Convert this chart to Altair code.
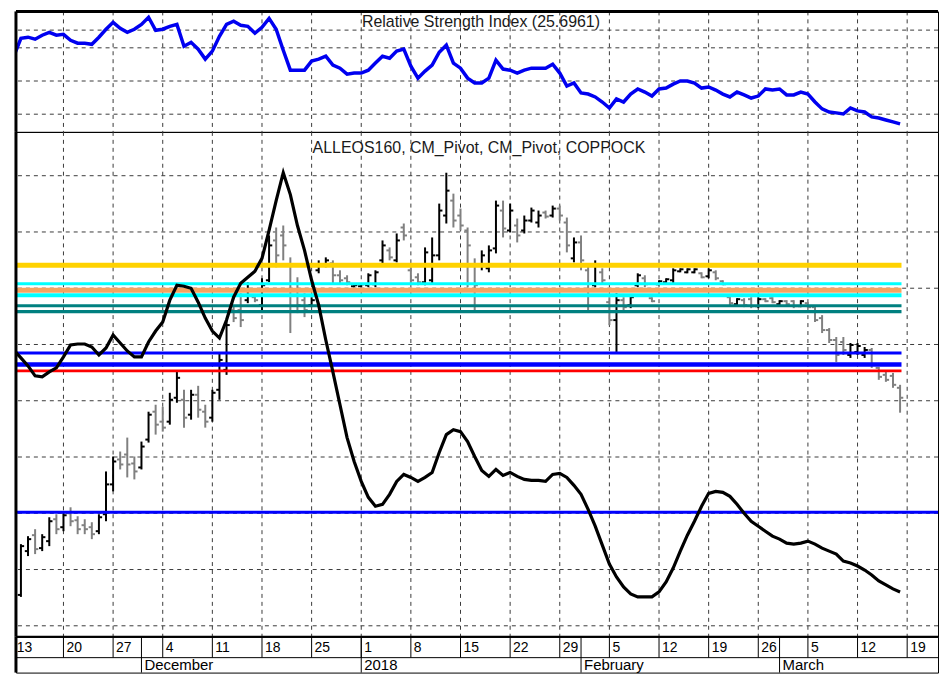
import altair as alt
import pandas as pd

# ---------------- data (day index: 0 = Monday 13 Nov 2017, one step per calendar day) ----------------
bar_day = list(range(1, 126))
bar_high = [95, 103, 110, 105, 122, 125, 127, 132, 123, 120,
            117, 125, 168, 183, 188, 202, 183, 198, 228, 235,
            233, 247, 268, 250, 250, 254, 235, 250, 287, 320,
            335, 347, 358, 345, 362, 405, 413, 415, 383, 363,
            347, 343, 380, 383, 380, 370, 365, 356, 356, 367,
            370, 400, 393, 407, 417, 373, 367, 393, 403, 437,
            468, 447, 432, 413, 382, 390, 395, 440, 440, 437,
            422, 425, 433, 430, 430, 435, 435, 423, 403, 405,
            377, 380, 372, 343, 347, 343, 345, 367, 365, 343,
            360, 362, 372, 372, 372, 372, 368, 372, 370, 360,
            345, 342, 342, 343, 343, 342, 343, 340, 340, 340,
            340, 338, 335, 325, 312, 303, 303, 297, 297, 293,
            292, 273, 268, 267, 255]
bar_low = [42, 83, 85, 88, 93, 105, 108, 113, 105, 105,
           100, 105, 118, 148, 170, 162, 160, 170, 197, 205,
           208, 215, 237, 212, 220, 222, 212, 218, 240, 265,
           318, 313, 337, 338, 330, 358, 373, 380, 307, 327,
           323, 333, 367, 373, 357, 357, 355, 353, 353, 353,
           353, 377, 380, 378, 400, 357, 355, 355, 357, 380,
           417, 413, 410, 353, 330, 370, 368, 387, 403, 408,
           398, 407, 418, 413, 422, 423, 420, 388, 378, 370,
           330, 353, 357, 315, 288, 330, 332, 353, 353, 338,
           355, 357, 357, 368, 367, 367, 362, 362, 360, 355,
           335, 335, 333, 332, 332, 338, 337, 335, 335, 332,
           333, 332, 318, 307, 297, 278, 285, 282, 285, 282,
           272, 260, 258, 252, 227]
bar_open = [44, 88, 104, 91, 98, 120, 112, 126, 119, 114,
            112, 108, 125, 155, 180, 185, 176, 172, 200, 228,
            218, 218, 242, 240, 225, 245, 228, 222, 250, 270,
            330, 330, 340, 343, 335, 360, 400, 405, 375, 350,
            340, 335, 370, 375, 377, 365, 362, 354, 354, 355,
            356, 380, 390, 380, 413, 370, 363, 358, 360, 385,
            425, 440, 425, 410, 375, 375, 372, 392, 430, 410,
            415, 410, 420, 418, 428, 425, 432, 418, 382, 398,
            370, 355, 368, 338, 320, 340, 335, 355, 362, 342,
            356, 358, 360, 369, 368, 368, 367, 364, 368, 359,
            343, 336, 340, 341, 334, 341, 342, 336, 339, 339,
            334, 337, 333, 322, 310, 300, 298, 285, 288, 285,
            290, 272, 265, 264, 252]
bar_close = [93, 100, 90, 102, 118, 110, 124, 118, 110, 110,
             105, 122, 155, 178, 175, 175, 168, 193, 225, 215,
             212, 240, 262, 222, 245, 230, 218, 247, 280, 315,
             322, 320, 350, 340, 355, 395, 385, 395, 345, 335,
             330, 340, 375, 380, 365, 360, 358, 355, 356, 365,
             368, 395, 383, 400, 405, 360, 358, 388, 385, 430,
             450, 420, 415, 395, 355, 385, 390, 435, 412, 430,
             405, 420, 430, 425, 424, 432, 425, 395, 398, 380,
             345, 375, 360, 320, 340, 333, 343, 365, 356, 339,
             359, 361, 370, 371, 371, 371, 363, 370, 362, 356,
             337, 341, 335, 334, 341, 339, 338, 339, 336, 334,
             339, 333, 320, 310, 300, 285, 290, 295, 294, 290,
             275, 263, 260, 255, 242]
bar_dir = ["up", "up", "down", "up", "up", "down", "up", "down", "down", "down",
           "down", "up", "up", "up", "down", "down", "down", "up", "up", "down",
           "down", "up", "up", "down", "up", "down", "down", "up", "up", "up",
           "down", "down", "up", "down", "up", "up", "down", "down", "down", "down",
           "down", "up", "up", "up", "down", "down", "down", "up", "up", "up",
           "up", "up", "down", "up", "down", "down", "down", "up", "up", "up",
           "up", "down", "down", "down", "down", "up", "up", "up", "down", "up",
           "down", "up", "up", "up", "down", "up", "down", "down", "up", "down",
           "down", "up", "down", "down", "up", "down", "up", "up", "down", "down",
           "up", "up", "up", "up", "up", "up", "down", "up", "down", "down",
           "down", "up", "down", "down", "up", "down", "down", "up", "down", "down",
           "up", "down", "down", "down", "down", "down", "down", "up", "up", "up",
           "down", "down", "down", "down", "down"]

line_day = list(range(0, 126))
coppock = [290, 282, 274, 264, 263, 268, 272, 283, 295, 296,
           296, 293, 285, 292, 305, 297, 289, 283, 283, 298,
           309, 318, 340, 355, 354, 352, 338, 322, 309, 302,
           320, 343, 357, 363, 369, 382, 410, 440, 468, 446,
           415, 390, 360, 335, 300, 268, 235, 202, 178, 158,
           142, 133, 135, 145, 158, 165, 162, 158, 162, 167,
           187, 205, 210, 208, 198, 183, 169, 163, 170, 164,
           167, 163, 160, 159, 159, 158, 165, 166, 162, 154,
           145, 130, 113, 94, 75, 62, 52, 45, 42, 42,
           42, 47, 57, 71, 88, 104, 118, 133, 146, 148,
           147, 143, 135, 126, 118, 113, 108, 103, 100, 96,
           95, 96, 98, 95, 91, 88, 85, 78, 76, 73,
           69, 64, 58, 54, 50, 47]
rsi = [56.2, 64.3, 64.8, 63.9, 65.7, 67.0, 65.7, 66.1, 63.4, 62.1,
       62.1, 61.6, 64.8, 68.4, 71.5, 68.8, 67.0, 68.4, 70.6, 73.8,
       67.9, 68.4, 69.7, 70.6, 60.7, 62.5, 59.4, 54.9, 58.5, 65.2,
       70.6, 72.0, 70.2, 69.7, 66.6, 69.3, 73.3, 68.4, 58.9, 49.9,
       49.9, 49.9, 54.0, 54.9, 56.2, 52.2, 50.8, 48.1, 48.6, 48.6,
       49.9, 53.1, 56.2, 55.3, 58.5, 59.4, 51.7, 46.3, 49.5, 52.2,
       58.0, 61.2, 53.1, 50.8, 46.3, 44.1, 44.1, 46.3, 54.4, 50.4,
       49.9, 48.6, 49.9, 50.8, 50.8, 50.8, 52.6, 48.6, 42.7, 44.1,
       39.6, 39.1, 37.8, 35.5, 32.8, 36.9, 35.5, 39.1, 41.4, 40.0,
       38.2, 41.4, 41.8, 43.6, 45.0, 45.0, 44.1, 41.8, 42.3, 40.9,
       39.1, 37.8, 40.0, 38.7, 37.3, 38.2, 41.4, 40.9, 41.4, 38.7,
       38.7, 40.0, 39.1, 35.5, 32.4, 31.0, 30.6, 30.1, 32.8, 31.5,
       31.0, 28.8, 28.3, 27.4, 26.5, 25.6]

level_value = [375, 356.5, 350, 345, 334.5, 328.5, 287, 275.5, 269, 127]
level_color = ["#FFD200", "#00FFFF", "#F4A460", "#00FFFF", "#008080", "#008080",
               "#0000FF", "#0000FF", "#FF0000", "#0000FF"]
level_width = [5, 3, 5, 4, 3, 3.5, 3, 4.5, 3, 3]
level_start = [0, 0, 0, 0, 0, 0, 0, 0, 0, 0]
level_end = [125.2, 125.2, 125.2, 125.2, 125.2, 125.2, 125.2, 125.2, 125.2, 131]

price_grid = [13, 69.5, 126, 182.5, 239, 295.5, 352, 408.5, 465]
rsi_grid = [30, 45, 60, 68]
monday_day = [0, 7, 14, 21, 28, 35, 42, 49, 56, 63, 70, 77, 84, 91, 98, 105, 112, 119, 126]
monday_label = ["13", "20", "27", "4", "11", "18", "25", "1", "8", "15", "22", "29",
                "5", "12", "19", "26", "5", "12", "19"]
month_day = [18, 49, 80, 108]
month_label = ["December", "2018", "February", "March"]

rsi_title = "Relative Strength Index (25.6961)"
main_title = "ALLEOS160, CM_Pivot, CM_Pivot, COPPOCK"

# ---------------- layout ----------------
W = 926
H1 = 121
H2 = 507
H3 = 36
ROW = 21
FONT = "Liberation Sans"
GRID = "#3a3a3a"

XS = alt.Scale(domain=[0.3, 130.35], nice=False, zero=False)
Y_RSI = alt.Scale(domain=[22, 76.45], nice=False, zero=False)
Y_MAIN = alt.Scale(domain=[2, 509], nice=False, zero=False)

one = pd.DataFrame({"a": [0]})
grid_days = pd.DataFrame({"day": monday_day[1:]})


def vgrid():
    return alt.Chart(grid_days).mark_rule(strokeDash=[4, 4], color=GRID, strokeWidth=1).encode(
        x=alt.X("day:Q", scale=XS, axis=None))


def left_border(h):
    return alt.Chart(one).mark_rule(color="black", strokeWidth=3).encode(
        x=alt.value(0), y=alt.value(0), y2=alt.value(h))


# ---- RSI panel ----
rsi_df = pd.DataFrame({"day": line_day, "rsi": rsi})
rsi_hgrid = alt.Chart(pd.DataFrame({"v": rsi_grid})).mark_rule(
    strokeDash=[4, 4], color=GRID, strokeWidth=1).encode(y=alt.Y("v:Q", scale=Y_RSI, axis=None))
rsi_line = alt.Chart(rsi_df).mark_line(color="#0000F0", strokeWidth=3.5, clip=True).encode(
    x=alt.X("day:Q", scale=XS, axis=None), y=alt.Y("rsi:Q", scale=Y_RSI, axis=None))
rsi_text = alt.Chart(pd.DataFrame({"t": [rsi_title]})).mark_text(
    align="center", baseline="middle", font=FONT, fontSize=16, color="#1a1a1a").encode(
    x=alt.value(467), y=alt.value(11), text="t:N")
top_border = alt.Chart(one).mark_rule(color="black", strokeWidth=3).encode(
    x=alt.value(0), x2=alt.value(W), y=alt.value(0))
rsi_panel = alt.layer(vgrid(), rsi_hgrid, rsi_line, rsi_text, top_border, left_border(H1)).properties(
    width=W, height=H1)

# ---- main panel ----
bars = pd.DataFrame({"day": bar_day, "high": bar_high, "low": bar_low,
                     "open": bar_open, "close": bar_close, "dir": bar_dir})
main_hgrid = alt.Chart(pd.DataFrame({"v": price_grid})).mark_rule(
    strokeDash=[4, 4], color=GRID, strokeWidth=1).encode(y=alt.Y("v:Q", scale=Y_MAIN, axis=None))

bar_layers = []
for d, col in [("down", "#808080"), ("up", "#000000")]:
    base = alt.Chart(bars).transform_filter(alt.datum.dir == d)
    bar_layers.append(base.mark_rule(color=col, strokeWidth=2).encode(
        x=alt.X("day:Q", scale=XS, axis=None),
        y=alt.Y("low:Q", scale=Y_MAIN, axis=None), y2="high:Q"))
    bar_layers.append(base.transform_calculate(x0="datum.day - 0.45").mark_rule(
        color=col, strokeWidth=2).encode(
        x=alt.X("x0:Q", scale=XS, axis=None), x2="day:Q",
        y=alt.Y("open:Q", scale=Y_MAIN, axis=None)))
    bar_layers.append(base.transform_calculate(x1="datum.day + 0.45").mark_rule(
        color=col, strokeWidth=2).encode(
        x=alt.X("day:Q", scale=XS, axis=None), x2="x1:Q",
        y=alt.Y("close:Q", scale=Y_MAIN, axis=None)))

levels = pd.DataFrame({"v": level_value, "c": level_color, "w": level_width,
                       "x0": level_start, "x1": level_end})
level_rules = alt.Chart(levels).mark_rule(clip=True).encode(
    x=alt.X("x0:Q", scale=XS, axis=None), x2="x1:Q",
    y=alt.Y("v:Q", scale=Y_MAIN, axis=None),
    stroke=alt.Stroke("c:N", scale=None),
    strokeWidth=alt.StrokeWidth("w:Q", scale=None))

cop_df = pd.DataFrame({"day": line_day, "cop": coppock})
cop_line = alt.Chart(cop_df).mark_line(color="black", strokeWidth=3.2, clip=True).encode(
    x=alt.X("day:Q", scale=XS, axis=None), y=alt.Y("cop:Q", scale=Y_MAIN, axis=None))
main_text = alt.Chart(pd.DataFrame({"t": [main_title]})).mark_text(
    align="center", baseline="middle", font=FONT, fontSize=16, color="#1a1a1a").encode(
    x=alt.value(465), y=alt.value(16), text="t:N")
bottom_border = alt.Chart(one).mark_rule(color="black", strokeWidth=2).encode(
    x=alt.value(0), x2=alt.value(W), y=alt.value(H2))
main_panel = alt.layer(vgrid(), main_hgrid, *bar_layers, level_rules, cop_line, main_text,
                       bottom_border, left_border(H2)).properties(width=W, height=H2)

# ---- date axis panel ----
mon_df = pd.DataFrame({"day": monday_day, "label": monday_label})
mon_rules = alt.Chart(mon_df.iloc[1:]).mark_rule(color="black", strokeWidth=1).encode(
    x=alt.X("day:Q", scale=XS, axis=None), y=alt.value(0), y2=alt.value(ROW))
mon_text = alt.Chart(mon_df).mark_text(
    align="left", baseline="middle", dx=3, font=FONT, fontSize=14, color="black").encode(
    x=alt.X("day:Q", scale=XS, axis=None), y=alt.value(11.5), text="label:N")
mid_rule = alt.Chart(one).mark_rule(color="black", strokeWidth=1).encode(
    x=alt.value(0), x2=alt.value(W), y=alt.value(ROW))
mo_df = pd.DataFrame({"day": month_day, "label": month_label})
mo_rules = alt.Chart(mo_df).mark_rule(color="black", strokeWidth=1).encode(
    x=alt.X("day:Q", scale=XS, axis=None), y=alt.value(0), y2=alt.value(H3))
mo_text = alt.Chart(mo_df).mark_text(
    align="left", baseline="top", dx=3, font=FONT, fontSize=15, color="black").encode(
    x=alt.X("day:Q", scale=XS, axis=None), y=alt.value(ROW + 0.5), text="label:N")
axis_panel = alt.layer(mon_rules, mon_text, mid_rule, mo_rules, mo_text, left_border(H3)).properties(
    width=W, height=H3)

chart = alt.vconcat(rsi_panel, main_panel, axis_panel, spacing=0, bounds="flush").properties(
    padding={"left": 6, "top": 0, "right": 0, "bottom": 0},
    background="white",
).configure_view(stroke="black", strokeWidth=1)

chart.save("out.html", embed_options={"renderer": "svg", "actions": False})
